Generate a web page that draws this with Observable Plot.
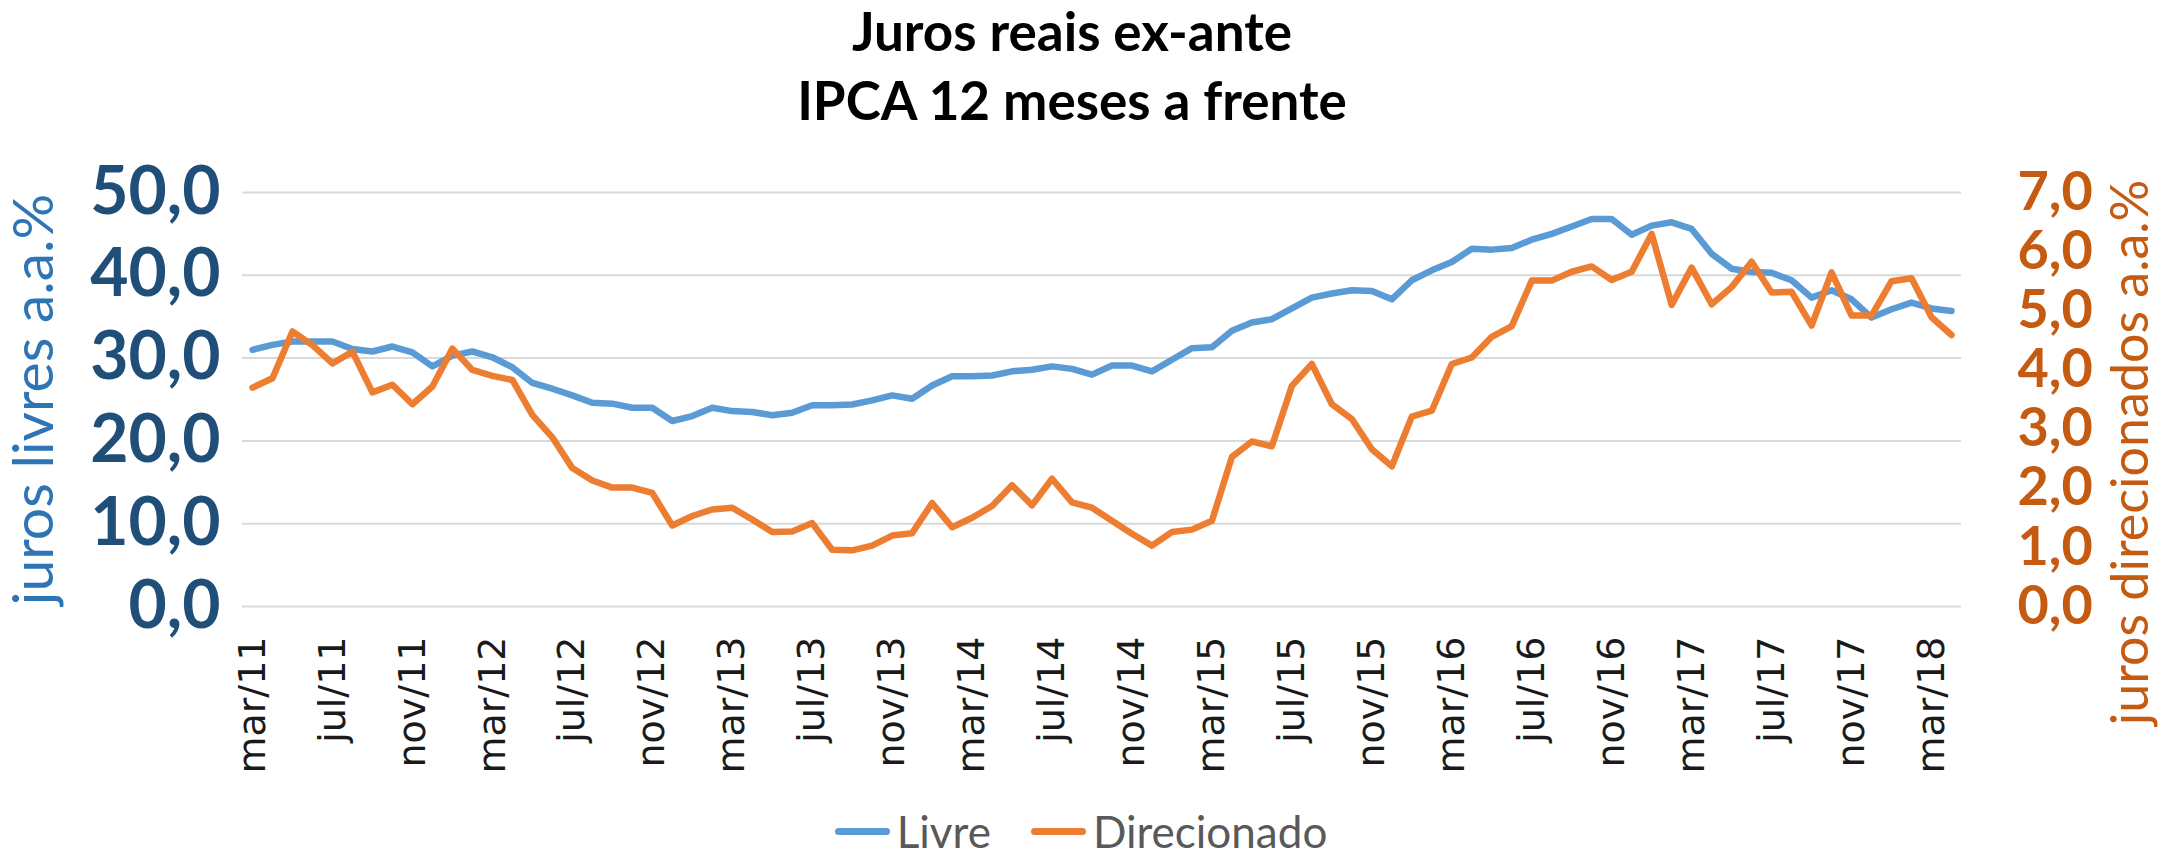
<!DOCTYPE html>
<html>
<head>
<meta charset="utf-8">
<script src="https://cdn.jsdelivr.net/npm/d3@7"></script>
<script src="https://cdn.jsdelivr.net/npm/@observablehq/plot@0.6"></script>
<style>
  html, body { margin: 0; padding: 0; background: #fff; overflow: hidden; width: 2162px; height: 855px; }
  #wrap { position: relative; width: 2162px; height: 855px; }
  #title { position: absolute; left: -9px; top: -4px; width: 2162px; text-align: center;
           font-family: Lato, sans-serif; font-weight: bold; font-size: 53px; line-height: 69px; color: #000; }
  #chart { position: absolute; left: 0; top: 140px; }
  #chart g[aria-label="x-axis tick label"] { font-family: "DejaVu Sans", sans-serif; }
  #legend { position: absolute; left: 0; top: 806px; width: 2162px; height: 50px; display: flex;
            justify-content: center; align-items: center; font-family: Lato, sans-serif; font-size: 44px; color: #595959; }
  .item { display: flex; align-items: center; margin: 0 20px; }
  .sw { width: 55px; height: 7px; border-radius: 4px; margin-right: 7px; }
</style>
</head>
<body>
<div id="wrap">
  <div id="title">Juros reais ex-ante<br>IPCA 12 meses a frente</div>
  <div id="chart"></div>
  <div id="legend"></div>
</div>
<script>
const months = [
  "mar/11","abr/11","mai/11","jun/11","jul/11","ago/11","set/11","out/11","nov/11","dez/11",
  "jan/12","fev/12","mar/12","abr/12","mai/12","jun/12","jul/12","ago/12","set/12","out/12","nov/12","dez/12",
  "jan/13","fev/13","mar/13","abr/13","mai/13","jun/13","jul/13","ago/13","set/13","out/13","nov/13","dez/13",
  "jan/14","fev/14","mar/14","abr/14","mai/14","jun/14","jul/14","ago/14","set/14","out/14","nov/14","dez/14",
  "jan/15","fev/15","mar/15","abr/15","mai/15","jun/15","jul/15","ago/15","set/15","out/15","nov/15","dez/15",
  "jan/16","fev/16","mar/16","abr/16","mai/16","jun/16","jul/16","ago/16","set/16","out/16","nov/16","dez/16",
  "jan/17","fev/17","mar/17","abr/17","mai/17","jun/17","jul/17","ago/17","set/17","out/17","nov/17","dez/17",
  "jan/18","fev/18","mar/18","abr/18"
];
const livre = [
  31.0,31.6,32.0,32.0,32.0,31.1,30.8,31.4,30.7,29.0,
  30.3,30.8,30.1,28.9,27.0,26.3,25.5,24.6,24.5,24.0,
  24.0,22.4,23.0,24.0,23.6,23.5,23.1,23.4,24.3,24.3,
  24.4,24.9,25.5,25.1,26.7,27.8,27.8,27.9,28.4,28.6,
  29.0,28.7,28.0,29.1,29.1,28.4,29.8,31.2,31.3,33.3,
  34.3,34.7,36.0,37.3,37.8,38.2,38.1,37.1,39.4,40.6,
  41.6,43.2,43.1,43.3,44.3,45.0,45.9,46.8,46.8,44.9,
  46.0,46.4,45.6,42.6,40.8,40.4,40.3,39.4,37.3,38.2,
  37.1,34.9,35.9,36.7,36.0,35.7
];
const direcionado = [
  3.70,3.86,4.65,4.42,4.11,4.31,3.62,3.75,3.42,3.72,
  4.36,4.00,3.90,3.83,3.24,2.86,2.34,2.13,2.01,2.01,
  1.92,1.37,1.53,1.64,1.67,1.47,1.26,1.27,1.41,0.96,
  0.95,1.03,1.20,1.24,1.75,1.34,1.50,1.70,2.05,1.71,
  2.16,1.76,1.67,1.45,1.23,1.03,1.26,1.30,1.45,2.53,
  2.79,2.71,3.73,4.10,3.42,3.17,2.66,2.37,3.21,3.31,
  4.10,4.21,4.56,4.74,5.51,5.51,5.66,5.75,5.52,5.66,
  6.30,5.10,5.73,5.11,5.40,5.83,5.31,5.32,4.75,5.65,
  4.92,4.92,5.50,5.55,4.89,4.59
];
const xTicks = ["mar/11","jul/11","nov/11","mar/12","jul/12","nov/12","mar/13","jul/13","nov/13",
  "mar/14","jul/14","nov/14","mar/15","jul/15","nov/15","mar/16","jul/16","nov/16","mar/17","jul/17","nov/17","mar/18"];
const leftTicks = [0, 10, 20, 30, 40, 50];
const rightTicks = [0, 1, 2, 3, 4, 5, 6, 7];
const leftTitle = "juros livres a.a.%";
const rightTitle = "juros direcionados a.a.%";
const seriesNames = ["Livre", "Direcionado"];
const seriesColors = ["#5B9BD5", "#ED7D31"];

const k = 50 / 7; // right axis (0–7) mapped onto left scale (0–50)
const fmt = v => v.toFixed(1).replace(".", ",");
const data = months.map((m, i) => ({month: m, livre: livre[i], dir: direcionado[i]}));

const chart = Plot.plot({
  width: 2162, height: 660,
  marginLeft: 242, marginRight: 201, marginTop: 52, marginBottom: 194,
  style: {fontFamily: "Lato, sans-serif", background: "white", overflow: "visible"},
  x: {type: "point", domain: months, padding: 0.5},
  y: {domain: [0, 50]},
  marks: [
    Plot.ruleY(leftTicks, {stroke: "#d9d9d9", strokeWidth: 2}),
    Plot.axisX(xTicks, {tickSize: 0, tickPadding: 30, tickRotate: -90, fontSize: 38,
      fill: "#1a1a1a", label: null}),
    Plot.axisY(leftTicks, {anchor: "left", tickSize: 0, tickPadding: 22, tickFormat: fmt,
      fontSize: 66, fontWeight: "bold", fill: "#1F4E79", label: null}),
    Plot.axisY(rightTicks.map(v => v * k), {anchor: "right", tickSize: 0, tickPadding: 56,
      tickFormat: v => fmt(v / k), fontSize: 54, fontWeight: "bold", fill: "#C55A11", label: null}),
    Plot.line(data, {x: "month", y: "livre", stroke: seriesColors[0], strokeWidth: 6.5, strokeLinejoin: "round"}),
    Plot.line(data, {x: "month", y: d => d.dir * k, stroke: seriesColors[1], strokeWidth: 6.5, strokeLinejoin: "round"}),
    Plot.text([leftTitle], {text: d => d, frameAnchor: "left", textAnchor: "middle", dx: -208, rotate: -90,
      fontSize: 57, fill: "#2E75B6"}),
    Plot.text([rightTitle], {text: d => d, frameAnchor: "right", textAnchor: "middle", dx: 170, dy: 53, rotate: -90,
      fontSize: 52, fill: "#C55A11"})
  ]
});
document.getElementById("chart").appendChild(chart);

const legend = document.getElementById("legend");
seriesNames.forEach((name, i) => {
  const item = document.createElement("div");
  item.className = "item";
  const sw = document.createElement("div");
  sw.className = "sw";
  sw.style.background = seriesColors[i];
  const label = document.createElement("span");
  label.textContent = name;
  item.appendChild(sw);
  item.appendChild(label);
  legend.appendChild(item);
});
</script>
</body>
</html>
